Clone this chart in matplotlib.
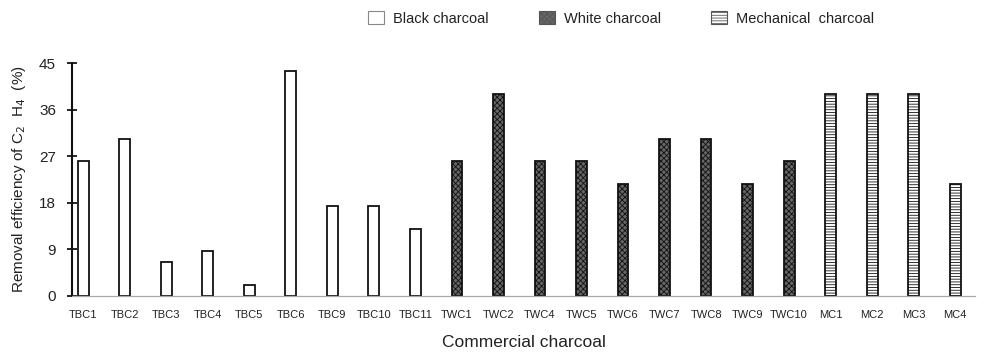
import matplotlib
matplotlib.use("Agg")
import matplotlib.pyplot as plt
from matplotlib.patches import Patch

plt.rcParams["font.family"] = ["Liberation Sans", "DejaVu Sans"]
plt.rcParams["hatch.linewidth"] = 0.6

black_names = ["TBC1", "TBC2", "TBC3", "TBC4", "TBC5", "TBC6", "TBC9", "TBC10", "TBC11"]
black_vals = [26.1, 30.4, 6.5, 8.7, 2.2, 43.5, 17.4, 17.4, 13.0]
white_names = ["TWC1", "TWC2", "TWC4", "TWC5", "TWC6", "TWC7", "TWC8", "TWC9", "TWC10"]
white_vals = [26.1, 39.1, 26.1, 26.1, 21.7, 30.4, 30.4, 21.7, 26.1]
mech_names = ["MC1", "MC2", "MC3", "MC4"]
mech_vals = [39.1, 39.1, 39.1, 21.7]
y_ticks = [0, 9, 18, 27, 36, 45]

fig = plt.figure(figsize=(9.86, 3.54), dpi=100)
ax = fig.add_axes([0.073, 0.164, 0.916, 0.658])

names = black_names + white_names + mech_names
n_b, n_w = len(black_names), len(white_names)
xb = list(range(n_b))
xw = list(range(n_b, n_b + n_w))
xm = list(range(n_b + n_w, len(names)))

w = 0.26
ax.bar(xb, black_vals, width=w, facecolor="white", edgecolor="#111", linewidth=1.3)
ax.bar(xw, white_vals, width=w, facecolor="#666", edgecolor="#111", linewidth=1.3,
       hatch="xxxxxx")
ax.bar(xm, mech_vals, width=w, facecolor="white", edgecolor="#111", linewidth=1.3,
       hatch="------")

ax.set_xlim(-0.27, len(names) - 1 + 0.48)
ax.set_ylim(0, 45)
ax.set_yticks(y_ticks)
ax.set_xticks(range(len(names)))
ax.set_xticklabels(names, fontsize=8, color="#222")
ax.tick_params(axis="x", length=0, pad=10)
ax.tick_params(axis="y", direction="inout", length=7, width=1.2, labelsize=11,
               labelcolor="#222", pad=8)

for s in ("top", "right"):
    ax.spines[s].set_visible(False)
ax.spines["left"].set_linewidth(1.5)
ax.spines["left"].set_color("#111")
ax.spines["bottom"].set_linewidth(0.9)
ax.spines["bottom"].set_color("#aaa")

ax.set_xlabel("Commercial charcoal", fontsize=12.5, color="#222", labelpad=11)
ax.set_ylabel("Removal efficiency of C$_2$  H$_4$  (%)", fontsize=11, color="#222",
              labelpad=8)

handles = [
    Patch(facecolor="white", edgecolor="#888", linewidth=0.8, label="Black charcoal"),
    Patch(facecolor="#666", edgecolor="#555", hatch="xxxxxx", linewidth=0.8,
          label="White charcoal"),
    Patch(facecolor="white", edgecolor="#555", hatch="------", linewidth=0.8,
          label="Mechanical  charcoal"),
]
fig.legend(handles=handles, loc="upper left", bbox_to_anchor=(0.363, 0.997), ncol=3,
           frameon=False, fontsize=10.5, handlelength=1.1, handleheight=1.0,
           columnspacing=3.45, handletextpad=0.6, labelcolor="#222",
           borderaxespad=0.3)

fig.savefig("out.png", dpi=100)
